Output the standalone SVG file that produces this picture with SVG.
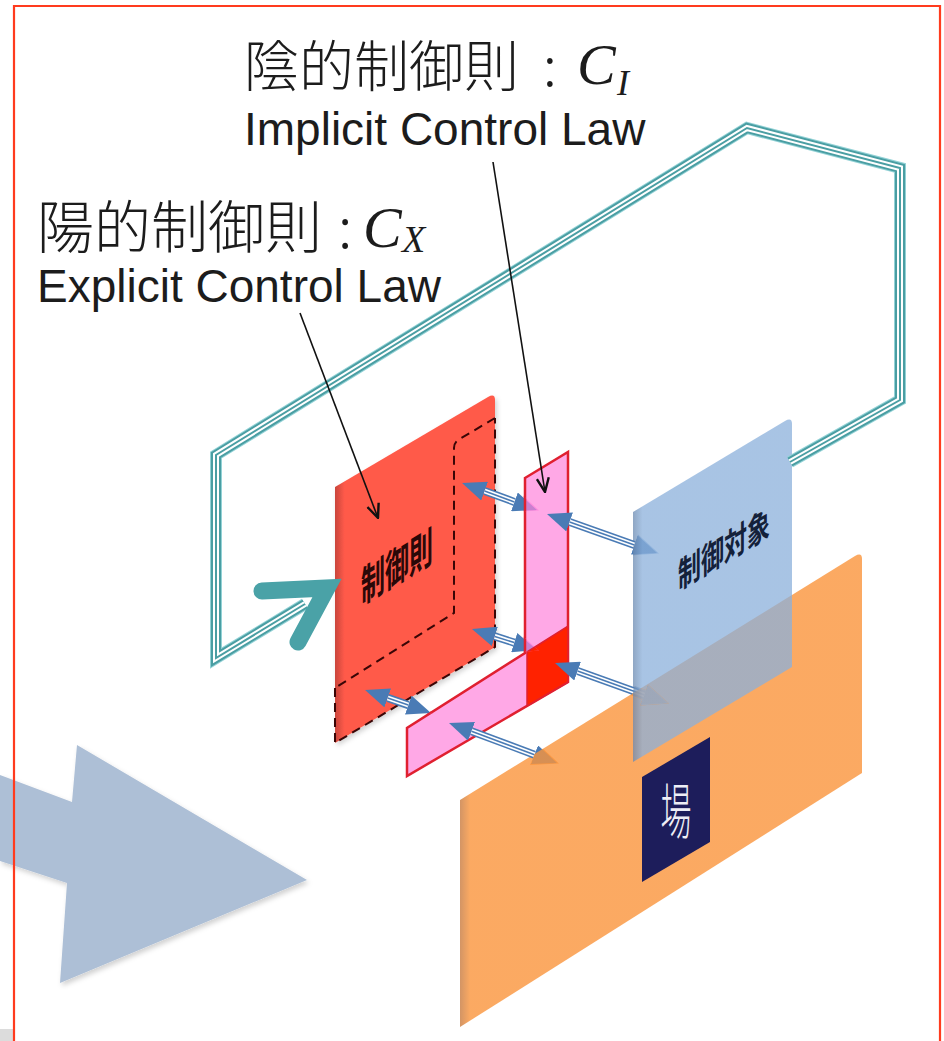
<svg xmlns="http://www.w3.org/2000/svg" xmlns:xlink="http://www.w3.org/1999/xlink" width="944" height="1041" viewBox="0 0 944 1041">
<defs>
<style>
.cjk{font-family:"Noto Sans CJK JP","Noto Sans CJK SC",sans-serif;}
.lat{font-family:"Liberation Sans",Arial,sans-serif;}
.ital{font-family:"Liberation Serif","Times New Roman",serif;font-style:italic;}
.lbl{fill:#1c1c1c;}
.thin{font-weight:300;}
.loop1{fill:none;stroke:#93d2d6;stroke-width:12;}
.loop2{fill:none;stroke:#4a9ea3;stroke-width:10;}
.loop3{fill:none;stroke:#ffffff;stroke-width:6;}
.loop4{fill:none;stroke:#4a9ea3;stroke-width:2;}
.sh1{fill:none;stroke:#4a7bb5;stroke-width:8;}
.sh2{fill:none;stroke:#ffffff;stroke-width:4.8;}
.sh3{fill:none;stroke:#4a7bb5;stroke-width:1.6;}
.lead{fill:none;stroke:#111111;stroke-width:1.6;}
.dash{fill:none;stroke:#3a0606;stroke-width:2;stroke-dasharray:9 6;}
.ptxt{font-weight:700;}
</style>
<marker id="bh" viewBox="0 0 24 20" refX="0" refY="10" markerWidth="24" markerHeight="20" markerUnits="userSpaceOnUse" orient="auto-start-reverse"><path d="M0,0 L24,10 L0,20 Z" fill="#4a7bb5"/></marker>
<marker id="vh" viewBox="0 0 16 14" refX="15" refY="7" markerWidth="16" markerHeight="14" markerUnits="userSpaceOnUse" orient="auto"><path d="M1,1 L15,7 L1,13" fill="none" stroke="#111111" stroke-width="2.4"/></marker>
<linearGradient id="gRed" x1="0" y1="0" x2="1" y2="0"><stop offset="0" stop-color="#c9453b"/><stop offset="0.06" stop-color="#ff5a4a"/><stop offset="1" stop-color="#ff5a4a"/></linearGradient>
<linearGradient id="gBlue" x1="0" y1="0" x2="1" y2="0"><stop offset="0" stop-color="#6a89b0"/><stop offset="0.06" stop-color="#8bb0db"/><stop offset="1" stop-color="#8bb0db"/></linearGradient>
<linearGradient id="gOr" x1="0" y1="0" x2="1" y2="0"><stop offset="0" stop-color="#c87a3e"/><stop offset="0.025" stop-color="#fa943b"/><stop offset="1" stop-color="#fa943b"/></linearGradient>
<filter id="shadow" x="-10%" y="-10%" width="130%" height="130%"><feDropShadow dx="2" dy="3" stdDeviation="2.5" flood-color="#000" flood-opacity="0.18"/></filter>
<clipPath id="headClip">
<polygon points="510,512 518,491 539,510.5"/>
<polygon points="630,555.5 638,534.5 659,553.5"/>
<polygon points="510,653 518,632 539,650.5"/>
<polygon points="640,705.5 648,684.5 669,703.5"/>
<polygon points="634.7,686.1 646.1,690.2 642.7,699.6 631.3,695.5"/>
<polygon points="404,715.5 412,694.5 433,713.5"/>
<polygon points="530,765 538.5,744.5 559,763.5"/>
</clipPath>
</defs>

<rect x="0" y="0" width="944" height="1041" fill="#ffffff"/>

<g id="big-arrow">
<polygon points="0,775 72,802 77,745 307,880 60,983 67,883 0,861" fill="#adbfd6" filter="url(#shadow)"/>
</g>

<g id="node-control-law">
<path id="red-panel" d="M335,487 L488,397 Q495,393 495,400 L495,647 L335,743 Z" fill="url(#gRed)" filter="url(#shadow)"/>
<path class="dash" d="M495,418 L458,440 Q454,443 454,448 L454,613 L335,688 M335,688 L335,743 L495,647 L495,418"/>
<text class="cjk ptxt" transform="matrix(1,-0.6,0,1.8,361,604)" font-size="24" fill="#2a0808">制御則</text>
</g>

<g id="node-implicit-law">
<path id="pink-L" d="M525,478 L568,452 L568,682 L407,776 L407,728 L525,653 Z" fill="#ff83db" fill-opacity="0.7" stroke="#e02030" stroke-width="2.5" stroke-linejoin="miter"/>
<path id="pink-sq" d="M527,652 L568,626 L568,682 L527,706 Z" fill="#ff2200" stroke="#e02030" stroke-width="1.5"/>
</g>

<g id="node-field">
<path id="orange-panel" d="M460,800 L855,556 Q862,552 862,559 L862,773 L460,1027 Z" fill="url(#gOr)" fill-opacity="0.8"/>
<path d="M642,777 L710,737 L710,842 L642,882 Z" fill="#1d1d5b"/>
<text class="cjk thin" transform="translate(676,834) scale(1,1.95)" text-anchor="middle" font-size="31" fill="#eeeef6">場</text>
</g>

<g id="node-plant">
<path id="blue-panel" d="M633,512 L785,421 Q792,417 792,424 L792,667 L633,762 Z" fill="url(#gBlue)" fill-opacity="0.75"/>
<text class="cjk ptxt" transform="matrix(1,-0.6,0,1.55,678,590)" font-size="23" fill="#14213a">制御対象</text>
</g>

<g id="connectors">
<g id="feedback-loop">
<path class="loop1" d="M790,462 L900,400 L900,168 L747,128 L216,455 L216,658 L305,604"/>
<path class="loop2" d="M790,462 L900,400 L900,168 L747,128 L216,455 L216,658 L305,604"/>
<path class="loop3" d="M790,462 L900,400 L900,168 L747,128 L216,455 L216,658 L305,604"/>
<path class="loop4" d="M790,462 L900,400 L900,168 L747,128 L216,455 L216,658 L305,604"/>
<polyline points="262,591 327,588 298,642" fill="none" stroke="#4aa2a7" stroke-width="17" stroke-linecap="round" stroke-linejoin="miter"/>
</g>
<g id="a1"><path class="sh1" d="M484.6,491.1 L514.4,501.9" marker-start="url(#bh)" marker-end="url(#bh)"/><path class="sh2" d="M484.6,491.1 L514.4,501.9"/><path class="sh3" d="M484.6,491.1 L514.4,501.9"/></g>
<g id="a2"><path class="sh1" d="M569.6,522 L634.4,545" marker-start="url(#bh)" marker-end="url(#bh)"/><path class="sh2" d="M569.6,522 L634.4,545"/><path class="sh3" d="M569.6,522 L634.4,545"/></g>
<g id="a3"><path class="sh1" d="M494.8,636.4 L514.2,642.6" marker-start="url(#bh)" marker-end="url(#bh)"/><path class="sh2" d="M494.8,636.4 L514.2,642.6"/><path class="sh3" d="M494.8,636.4 L514.2,642.6"/></g>
<g id="a4"><path class="sh1" d="M577.6,671.1 L644.4,694.9" marker-start="url(#bh)" marker-end="url(#bh)"/><path class="sh2" d="M577.6,671.1 L644.4,694.9"/><path class="sh3" d="M577.6,671.1 L644.4,694.9"/></g>
<g id="a5"><path class="sh1" d="M387.7,697.9 L408.3,705.1" marker-start="url(#bh)" marker-end="url(#bh)"/><path class="sh2" d="M387.7,697.9 L408.3,705.1"/><path class="sh3" d="M387.7,697.9 L408.3,705.1"/></g>
<g id="a6"><path class="sh1" d="M471.5,731.3 L534.5,754.7" marker-start="url(#bh)" marker-end="url(#bh)"/><path class="sh2" d="M471.5,731.3 L534.5,754.7"/><path class="sh3" d="M471.5,731.3 L534.5,754.7"/></g>
<g id="panel-tint" clip-path="url(#headClip)">
<use xlink:href="#pink-L"/>
<use xlink:href="#pink-sq"/>
<use xlink:href="#orange-panel"/>
<use xlink:href="#blue-panel"/>
</g>
<path class="lead" d="M493,162 L545,492" marker-end="url(#vh)"/>
<path class="lead" d="M300,313 L378,518" marker-end="url(#vh)"/>
</g>

<g id="labels">
<text class="cjk lbl thin" x="244" y="86" font-size="55">陰的制御則</text>
<text class="cjk lbl thin" x="543" y="86" font-size="55">:</text>
<text class="ital lbl" x="577" y="84" font-size="58">C</text>
<text class="ital lbl" x="617" y="95" font-size="36">I</text>
<text class="lat lbl" x="244" y="145" font-size="46">Implicit Control Law</text>
<text class="cjk lbl thin" x="37" y="248" font-size="57">陽的制御則</text>
<text class="cjk lbl thin" x="338" y="248" font-size="57">:</text>
<text class="ital lbl" x="363" y="247" font-size="58">C</text>
<text class="ital lbl" x="402" y="252" font-size="38">X</text>
<text class="lat lbl" x="37" y="302" font-size="46">Explicit Control Law</text>
</g>

<g id="frame">
<rect x="0" y="1029" width="13" height="12" fill="#dcdcdc"/>
<path d="M14,1041 V6 H940 V1041" fill="none" stroke="#ff3b1e" stroke-width="2.2"/>
</g>
</svg>
